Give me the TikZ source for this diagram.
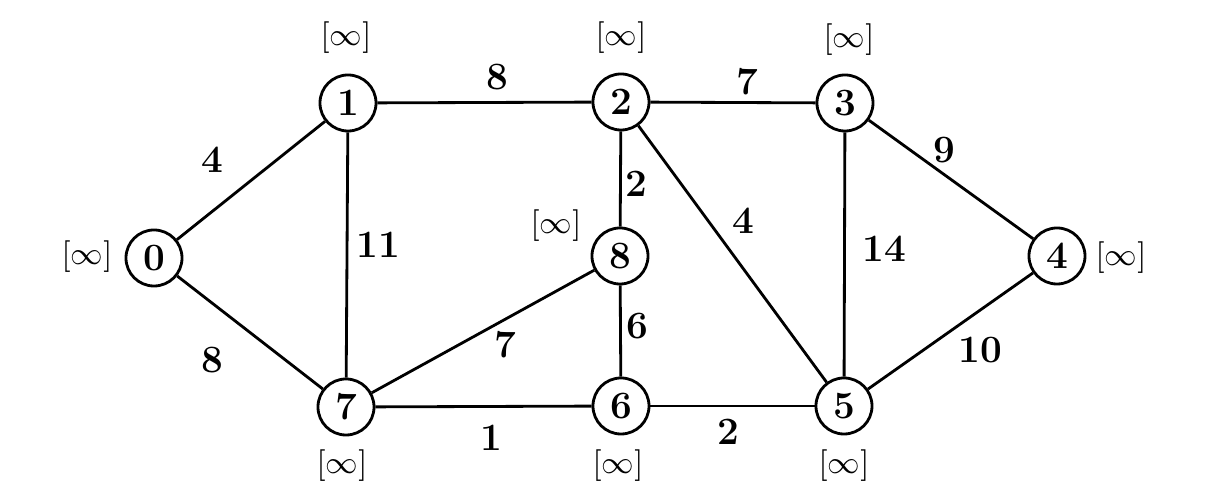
\documentclass[tikz,border=0pt]{standalone}
\begin{document}
\begin{tikzpicture}[x=0.01cm,y=-0.01cm,
  vtx/.style={circle,draw,line width=0.8pt,minimum size=0.56cm,inner sep=0pt,font=\fontsize{11}{13}\selectfont\bfseries},
  wt/.style={inner sep=1pt,font=\fontsize{11}{13}\selectfont\bfseries},
  dist/.style={inner sep=1pt,font=\fontsize{9.5}{11}\selectfont},
  edge/.style={line width=0.8pt}]
\useasboundingbox (0,0) rectangle (1205,498);
\node[vtx] (0) at (154,258) {0};
\node[vtx] (1) at (348,103) {1};
\node[vtx] (2) at (621,102) {2};
\node[vtx] (3) at (845,103) {3};
\node[vtx] (4) at (1057,256) {4};
\node[vtx] (5) at (844,406) {5};
\node[vtx] (6) at (621,406) {6};
\node[vtx] (7) at (346,407) {7};
\node[vtx] (8) at (620,256) {8};
\draw[edge] (0) -- (1);
\draw[edge] (0) -- (7);
\draw[edge] (1) -- (2);
\draw[edge] (1) -- (7);
\draw[edge] (2) -- (3);
\draw[edge] (2) -- (8);
\draw[edge] (2) -- (5);
\draw[edge] (3) -- (4);
\draw[edge] (3) -- (5);
\draw[edge] (4) -- (5);
\draw[edge] (8) -- (7);
\draw[edge] (8) -- (6);
\draw[edge] (7) -- (6);
\draw[edge] (6) -- (5);
\node[wt] (w01) at (212,160) {4};
\node[wt] (w07) at (212,360) {8};
\node[wt] (w12) at (497,77) {8};
\node[wt] (w17) at (378,245) {11};
\node[wt] (w23) at (747,82) {7};
\node[wt] (w28) at (636,184) {2};
\node[wt] (w25) at (743,221) {4};
\node[wt] (w34) at (944,150) {9};
\node[wt] (w35) at (884,249) {14};
\node[wt] (w45) at (980,350) {10};
\node[wt] (w87) at (505,345) {7};
\node[wt] (w86) at (637,326) {6};
\node[wt] (w76) at (491,438) {1};
\node[wt] (w65) at (728,432) {2};
\node[dist] (d0) at (87,257) {$[\infty]$};
\node[dist] (d1) at (346,38) {$[\infty]$};
\node[dist] (d2) at (621,38) {$[\infty]$};
\node[dist] (d3) at (849,40) {$[\infty]$};
\node[dist] (d4) at (1121,258) {$[\infty]$};
\node[dist] (d5) at (844,466) {$[\infty]$};
\node[dist] (d6) at (618,466) {$[\infty]$};
\node[dist] (d7) at (342,466) {$[\infty]$};
\node[dist] (d8) at (556,226) {$[\infty]$};
\end{tikzpicture}
\end{document}
